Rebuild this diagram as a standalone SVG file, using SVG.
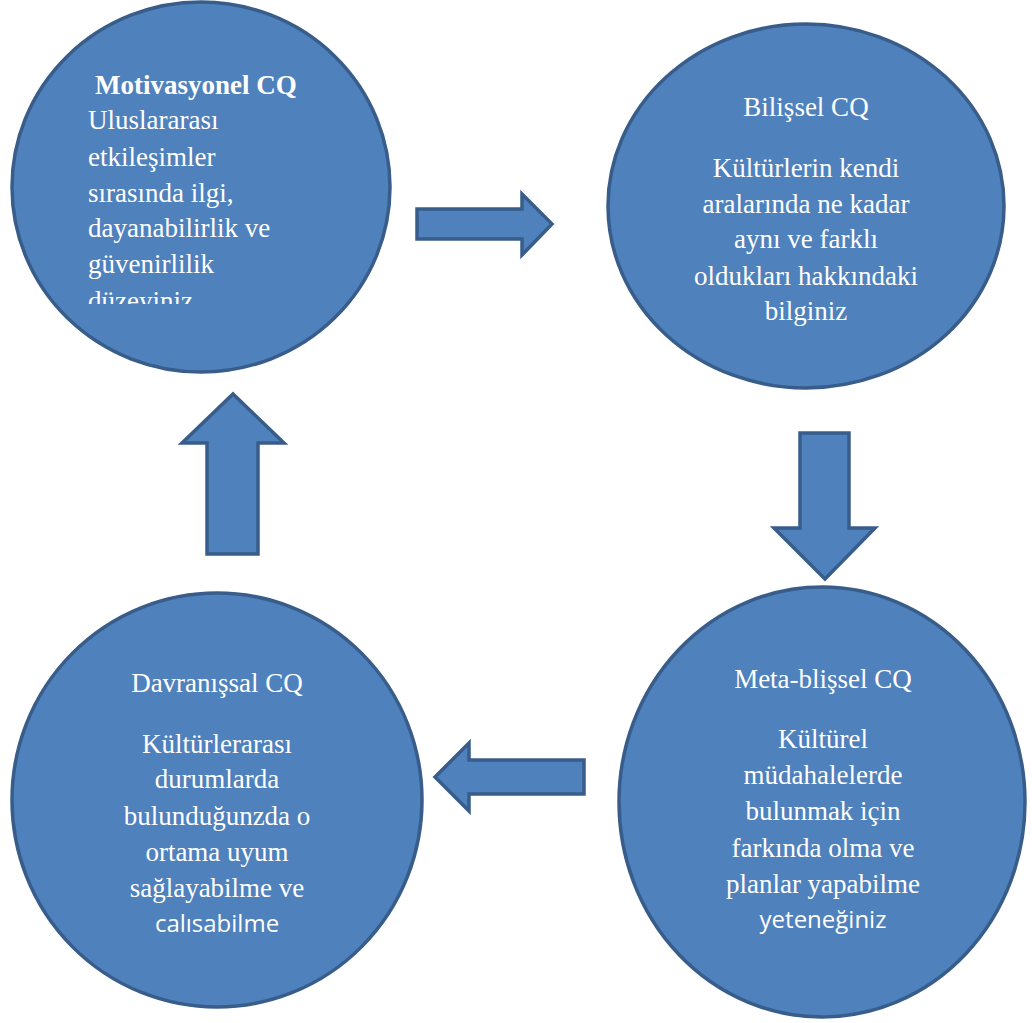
<svg xmlns="http://www.w3.org/2000/svg" width="1032" height="1023" viewBox="0 0 1032 1023">
<defs>
<style>
.shape{fill:#4F81BD;stroke:#385D8A;stroke-width:3.5;stroke-linejoin:miter}
.t{fill:#FFFFFF;font-family:"Liberation Serif","Times New Roman",serif;font-size:27px}
.c{text-anchor:middle}
.b{font-weight:bold}
.s{font-family:"Open Sans","Noto Sans","Liberation Sans",sans-serif;font-size:24px}
</style>
<clipPath id="clip1"><rect x="0" y="0" width="400" height="304"/></clipPath>
</defs>
<rect width="1032" height="1023" fill="#FFFFFF"/>
<g id="connectors">
<polygon class="shape" points="417,209 522,209 522,194 552,224 522,255 522,239 417,239"/>
<polygon class="shape" points="800,433 849,433 849,528 875,528 825,579 774,528 800,528"/>
<polygon class="shape" points="584,760 469,760 469,743 435,777 469,811 469,794 584,794"/>
<polygon class="shape" points="207,554 207,443 182,443 233,394 284,443 258,443 258,554"/>
</g>
<g id="node-motivasyonel">
<ellipse class="shape" cx="201" cy="187" rx="189" ry="185"/>
<g clip-path="url(#clip1)">
<text class="t b" x="95" y="94">Motivasyonel CQ</text>
<text class="t" x="88" y="129">Uluslararası</text>
<text class="t" x="88" y="166">etkileşimler</text>
<text class="t" x="88" y="202">sırasında ilgi,</text>
<text class="t" x="88" y="237">dayanabilirlik ve</text>
<text class="t" x="88" y="273">güvenirlilik</text>
<text class="t" x="88" y="310">düzeyiniz</text>
</g>
</g>
<g id="node-bilissel">
<ellipse class="shape" cx="806" cy="206" rx="198" ry="182"/>
<text class="t c" x="806" y="116">Bilişsel CQ</text>
<text class="t c" x="806" y="177">Kültürlerin kendi</text>
<text class="t c" x="806" y="213">aralarında ne kadar</text>
<text class="t c" x="806" y="248">aynı ve farklı</text>
<text class="t c" x="806" y="285">oldukları hakkındaki</text>
<text class="t c" x="806" y="320">bilginiz</text>
</g>
<g id="node-metabilissel">
<ellipse class="shape" cx="822" cy="802" rx="203" ry="215"/>
<text class="t c" x="823" y="688">Meta-blişsel CQ</text>
<text class="t c" x="823" y="748">Kültürel</text>
<text class="t c" x="823" y="784">müdahalelerde</text>
<text class="t c" x="823" y="820">bulunmak için</text>
<text class="t c" x="823" y="857">farkında olma ve</text>
<text class="t c" x="823" y="893">planlar yapabilme</text>
<text class="t c s" x="823" y="928">yeteneğiniz</text>
</g>
<g id="node-davranissal">
<ellipse class="shape" cx="217" cy="800" rx="205" ry="207"/>
<text class="t c" x="217" y="692">Davranışsal CQ</text>
<text class="t c" x="217" y="753">Kültürlerarası</text>
<text class="t c" x="217" y="788">durumlarda</text>
<text class="t c" x="217" y="825">bulunduğunzda o</text>
<text class="t c" x="217" y="861">ortama uyum</text>
<text class="t c" x="217" y="897">sağlayabilme ve</text>
<text class="t c s" x="217" y="932">calısabilme</text>
</g>
</svg>
